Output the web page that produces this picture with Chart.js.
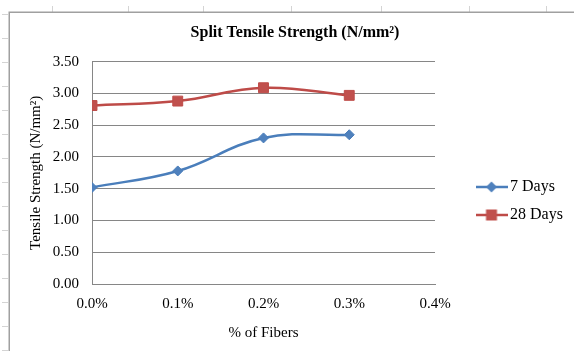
<!DOCTYPE html>
<html>
<head>
<meta charset="utf-8">
<title>Split Tensile Strength</title>
<script src="https://cdn.jsdelivr.net/npm/chart.js@4/dist/chart.umd.min.js"></script>
<style>
  html, body { margin: 0; padding: 0; background: #fff; overflow: hidden; }
  #wrap { position: relative; width: 574px; height: 351px; }
</style>
</head>
<body>
<div id="wrap"><canvas id="chart"></canvas></div>
<script>
// Fibre content (%) and split tensile strength (N/mm²)
const fiberPercent = [0.0, 0.1, 0.2, 0.3];
const sevenDays = [1.52, 1.78, 2.30, 2.35];
const twentyEightDays = [2.81, 2.88, 3.09, 2.97];
const seriesNames = ['7 Days', '28 Days'];
const xTickValues = [0.0, 0.1, 0.2, 0.3, 0.4];
const xTickLabels = ['0.0%', '0.1%', '0.2%', '0.3%', '0.4%'];
const yTickValues = [0, 0.5, 1.0, 1.5, 2.0, 2.5, 3.0, 3.5];
const yTickLabels = ['0.00', '0.50', '1.00', '1.50', '2.00', '2.50', '3.00', '3.50'];

const SERIF = "'Liberation Serif', 'Times New Roman', serif";
const BLUE_LINE = '#4A7EBB', BLUE_FILL = '#4F81BD';
const RED_LINE = '#BE4B48', RED_FILL = '#C0504D';

Chart.defaults.font.family = SERIF;
Chart.defaults.color = '#000';

// Legend swatch: a short line with the series marker in the middle
function makeSwatch(lineColor, fillColor, shape) {
  const c = document.createElement('canvas');
  c.width = 32; c.height = 14;
  const g = c.getContext('2d');
  g.strokeStyle = lineColor; g.lineWidth = 2.5;
  g.beginPath(); g.moveTo(0, 7); g.lineTo(32, 7); g.stroke();
  g.fillStyle = fillColor;
  g.beginPath();
  if (shape === 'diamond') {
    g.moveTo(16, 1.5); g.lineTo(21.5, 7); g.lineTo(16, 12.5); g.lineTo(10.5, 7);
  } else {
    g.rect(10.5, 1.5, 11, 11);
  }
  g.closePath(); g.fill();
  return c;
}

const toPoints = ys => fiberPercent.map((x, i) => ({ x, y: ys[i] }));

// Worksheet frame behind the chart: cell ticks and the chart object border
const sheetFrame = {
  id: 'sheetFrame',
  beforeDraw(chart) {
    const ctx = chart.ctx;
    ctx.save();
    ctx.fillStyle = '#fff';
    ctx.fillRect(0, 0, chart.width, chart.height);
    ctx.strokeStyle = '#d4d4d4';
    ctx.lineWidth = 1;
    for (let y = 14; y <= 351; y += 24) {
      ctx.beginPath(); ctx.moveTo(2, y + 0.5); ctx.lineTo(8, y + 0.5); ctx.stroke();
    }
    [52, 128, 203, 291, 381, 469, 546].forEach(x => {
      ctx.beginPath(); ctx.moveTo(x + 0.5, 6); ctx.lineTo(x + 0.5, 12); ctx.stroke();
    });
    ctx.strokeStyle = '#a0a0a0';
    ctx.lineWidth = 1.5;
    ctx.beginPath();
    ctx.moveTo(9.25, chart.height);
    ctx.lineTo(9.25, 12.25);
    ctx.lineTo(chart.width, 12.25);
    ctx.stroke();
    ctx.restore();
  }
};

// Place the legend to the right of the plot area
const legendPlacement = {
  id: 'legendPlacement',
  afterLayout(chart) {
    const lg = chart.legend;
    if (!lg) return;
    lg.left = 469; lg.top = 167;
    lg.width = 105; lg.height = 90;
    lg.right = lg.left + lg.width;
    lg.bottom = lg.top + lg.height;
  }
};

new Chart(document.getElementById('chart'), {
  type: 'line',
  data: {
    datasets: [
      {
        label: seriesNames[0],
        data: toPoints(sevenDays),
        borderColor: BLUE_LINE,
        backgroundColor: BLUE_FILL,
        borderWidth: 2.5,
        tension: 0.4,
        pointStyle: 'rectRot',
        pointRadius: 5,
        pointBorderWidth: 1,
        pointBackgroundColor: BLUE_FILL,
        pointBorderColor: BLUE_LINE,
        swatch: makeSwatch(BLUE_LINE, BLUE_FILL, 'diamond')
      },
      {
        label: seriesNames[1],
        data: toPoints(twentyEightDays),
        borderColor: RED_LINE,
        backgroundColor: RED_FILL,
        borderWidth: 2.5,
        tension: 0.4,
        pointStyle: 'rect',
        pointRadius: 7,
        pointBorderWidth: 1,
        pointBackgroundColor: RED_FILL,
        pointBorderColor: RED_LINE,
        swatch: makeSwatch(RED_LINE, RED_FILL, 'square')
      }
    ]
  },
  options: {
    responsive: true,
    maintainAspectRatio: false,
    devicePixelRatio: 1,
    animation: false,
    events: [],
    layout: { padding: { left: 16, right: 0, top: 0, bottom: 0 } },
    plugins: {
      title: {
        display: true,
        text: 'Split Tensile Strength (N/mm²)',
        color: '#000',
        font: { family: SERIF, size: 16, weight: 'bold' },
        padding: { top: 23.4, bottom: 19.1 }
      },
      legend: {
        position: 'chartArea',
        align: 'start',
        labels: {
          usePointStyle: true,
          pointStyleWidth: 21,
          padding: 12,
          color: '#000',
          font: { family: SERIF, size: 16 },
          generateLabels(chart) {
            return chart.data.datasets.map((ds, i) => ({
              text: ds.label,
              pointStyle: ds.swatch,
              fillStyle: ds.backgroundColor,
              strokeStyle: ds.borderColor,
              lineWidth: 0,
              hidden: false,
              datasetIndex: i
            }));
          }
        }
      },
      tooltip: { enabled: false }
    },
    scales: {
      x: {
        type: 'linear',
        min: xTickValues[0],
        max: xTickValues[xTickValues.length - 1],
        afterBuildTicks(scale) { scale.ticks = xTickValues.map(v => ({ value: v })); },
        afterFit(scale) {
          scale.height = 67;
          scale.paddingLeft = 0;
          scale.paddingRight = 139;
        },
        grid: { display: false, drawTicks: false },
        border: { display: true, color: '#868686', width: 1 },
        ticks: {
          padding: 11,
          maxRotation: 0,
          autoSkip: false,
          color: '#000',
          font: { family: SERIF, size: 15 },
          callback: (v, i) => xTickLabels[i]
        },
        title: {
          display: true,
          text: '% of Fibers',
          color: '#000',
          font: { family: SERIF, size: 15 },
          padding: { top: 0, bottom: 9 }
        }
      },
      y: {
        min: yTickValues[0],
        max: yTickValues[yTickValues.length - 1],
        afterBuildTicks(scale) { scale.ticks = yTickValues.map(v => ({ value: v })); },
        afterFit(scale) {
          scale.width = 76;
          scale.paddingTop = 0;
          scale.paddingBottom = 0;
        },
        grid: { color: '#868686', lineWidth: 1, drawTicks: false },
        border: { display: true, color: '#868686', width: 1 },
        ticks: {
          padding: 13,
          color: '#000',
          font: { family: SERIF, size: 15 },
          callback: (v, i) => yTickLabels[i]
        },
        title: {
          display: true,
          text: 'Tensile Strength (N/mm²)',
          color: '#000',
          font: { family: SERIF, size: 15 },
          padding: { top: 11, bottom: 0 }
        }
      }
    }
  },
  plugins: [sheetFrame, legendPlacement]
});
</script>
</body>
</html>
